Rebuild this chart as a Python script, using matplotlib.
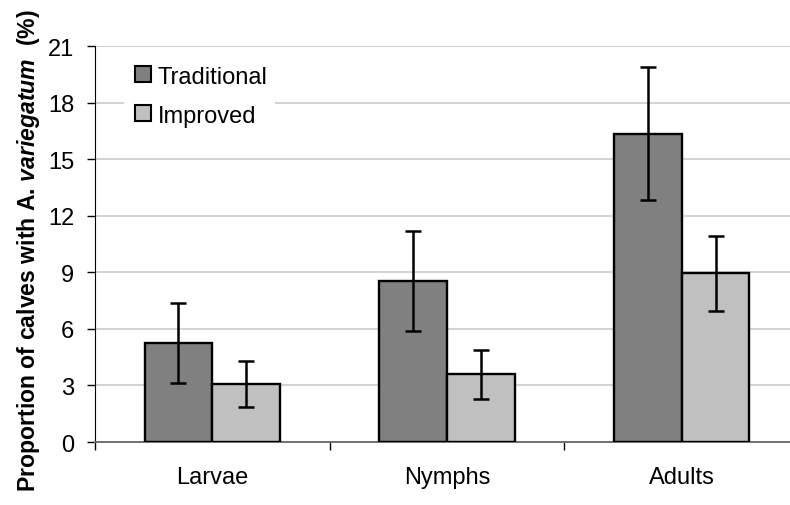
import numpy as np
import matplotlib.pyplot as plt
from matplotlib.lines import Line2D

plt.rcParams['font.family'] = ['Liberation Sans', 'DejaVu Sans']
plt.rcParams['mathtext.fontset'] = 'custom'
plt.rcParams['mathtext.it'] = 'Liberation Sans:italic:bold'
plt.rcParams['mathtext.rm'] = 'Liberation Sans:bold'

# Datos: proporcion de terneros con A. variegatum (%)
stages = ['Larvae', 'Nymphs', 'Adults']
series = ['Traditional', 'Improved']
traditional = [5.23, 8.54, 16.33]
improved = [3.07, 3.59, 8.94]
# extremos inferior y superior de las barras de error
trad_low = [3.11, 5.89, 12.81]
trad_high = [7.37, 11.19, 19.87]
impr_low = [1.87, 2.28, 6.93]
impr_high = [4.28, 4.88, 10.92]

colors = ['#808080', '#c0c0c0']

fig = plt.figure(figsize=(7.9, 5.06), dpi=100)
ax = fig.add_axes([95 / 790, 1 - 443 / 506, 704 / 790, 396 / 506])

centers = np.arange(len(stages)) + 0.5
w = 0.289

for vals, lo, hi, col, off in [(traditional, trad_low, trad_high, colors[0], -w / 2),
                               (improved, impr_low, impr_high, colors[1], w / 2)]:
    vals = np.array(vals)
    yerr = [vals - np.array(lo), np.array(hi) - vals]
    ax.bar(centers + off, vals, width=w, color=col, edgecolor='black',
           linewidth=1.7, zorder=3)
    ax.errorbar(centers + off, vals, yerr=yerr, fmt='none', ecolor='black',
                elinewidth=1.8, capsize=5.5, capthick=1.8, zorder=4)

ax.set_xlim(0, 3)
ax.set_ylim(0, 21)
ax.set_yticks(np.arange(0, 22, 3))
ax.yaxis.grid(True, color='#c8c8c8', linewidth=1.1, zorder=0)
ax.set_axisbelow(True)

# etiquetas de categoria centradas, ticks en los limites
ax.set_xticks(centers)
ax.set_xticklabels(stages, fontsize=17)
ax.set_xticks(np.arange(0, 4), minor=True)
ax.tick_params(axis='x', which='major', length=0, pad=17)
ax.tick_params(axis='x', which='minor', length=6, width=1, color='black')
ax.tick_params(axis='y', length=6, width=1, labelsize=17, pad=9)

for s in ['top', 'right']:
    ax.spines[s].set_visible(False)
ax.spines['left'].set_color('black')
ax.spines['bottom'].set_color('#707070')
ax.spines['bottom'].set_linewidth(1.4)

ax.set_ylabel('Proportion of calves with A. $\\mathit{variegatum}$  (%)',
              fontsize=16.6, fontweight='bold', labelpad=4.5)
ax.yaxis.label.set_y(0.485)

handles = [Line2D([], [], marker='s', linestyle='none', markersize=11,
                  markerfacecolor=c, markeredgecolor='black', markeredgewidth=1.5)
           for c in colors]
leg = ax.legend(handles, series, loc='upper left', bbox_to_anchor=(0.024, 0.998),
                fontsize=17, frameon=True, framealpha=1, edgecolor='none',
                facecolor='white', handletextpad=0.15, labelspacing=0.72,
                borderpad=0.3, handlelength=1.0)
leg.get_frame().set_linewidth(0)

plt.savefig('out.png', dpi=100)
